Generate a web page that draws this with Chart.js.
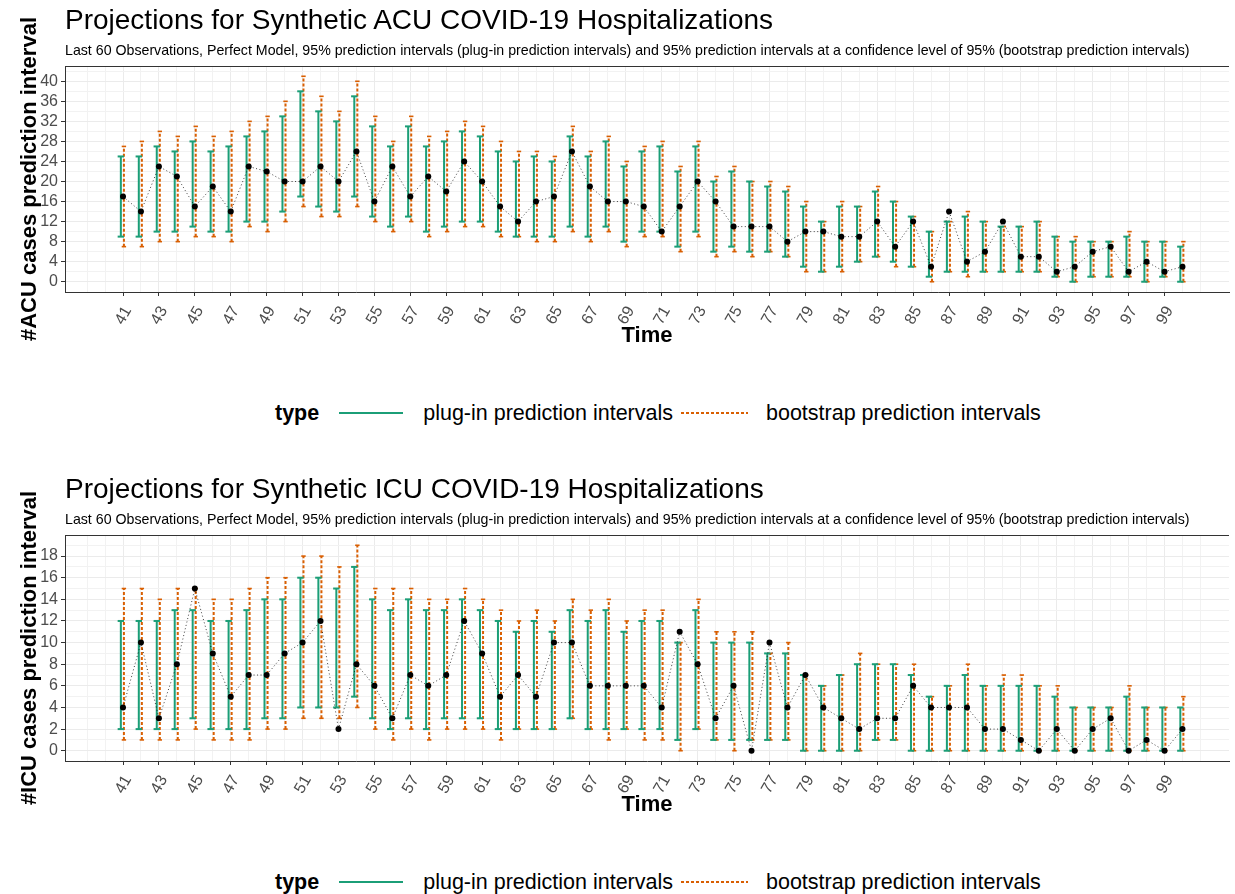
<!DOCTYPE html>
<html>
<head>
<meta charset="utf-8">
<script src="https://cdn.jsdelivr.net/npm/chart.js@4.4.0/dist/chart.umd.min.js"></script>
<style>
  body { margin: 0; background: #fff; font-family: "Liberation Sans", Arial, sans-serif; }
  .panel { position: absolute; left: 0; width: 1235px; height: 470px; }
  .title { position: absolute; z-index: 2; left: 65px; top: 4px; font-size: 28px; line-height: 32px; color: #000; white-space: nowrap; }
  .subtitle { position: absolute; z-index: 2; left: 65px; top: 42px; font-size: 14.2px; line-height: 16px; color: #000; white-space: nowrap; }
  .plot { position: absolute; left: 0; top: 0; z-index: 1; }
  .legend { position: absolute; left: 275px; top: 399px; height: 28px; line-height: 28px; font-size: 21.5px; display: flex; align-items: center; white-space: nowrap; }
  .legend b { font-weight: bold; }
  .legend svg { display: block; }
</style>
</head>
<body>

<div class="panel" style="top:0">
  <canvas class="plot" id="acu-chart" width="1235" height="352"></canvas>
  <div class="title">Projections for Synthetic ACU COVID-19 Hospitalizations</div>
  <div class="subtitle">Last 60 Observations, Perfect Model, 95% prediction intervals (plug-in prediction intervals) and 95% prediction intervals at a confidence level of 95% (bootstrap prediction intervals)</div>
  <div class="legend">
    <b>type</b>
    <svg width="64" height="4" style="margin-left:20px"><line x1="0" y1="2" x2="64" y2="2" stroke="#1b9e77" stroke-width="2"/></svg>
    <span style="margin-left:20px">plug-in prediction intervals</span>
    <svg width="67" height="4" style="margin-left:8px"><line x1="0" y1="2" x2="67" y2="2" stroke="#d95f02" stroke-width="2" stroke-dasharray="3,2"/></svg>
    <span style="margin-left:18px">bootstrap prediction intervals</span>
  </div>
</div>

<div class="panel" style="top:469px">
  <canvas class="plot" id="icu-chart" width="1235" height="352"></canvas>
  <div class="title">Projections for Synthetic ICU COVID-19 Hospitalizations</div>
  <div class="subtitle">Last 60 Observations, Perfect Model, 95% prediction intervals (plug-in prediction intervals) and 95% prediction intervals at a confidence level of 95% (bootstrap prediction intervals)</div>
  <div class="legend">
    <b>type</b>
    <svg width="64" height="4" style="margin-left:20px"><line x1="0" y1="2" x2="64" y2="2" stroke="#1b9e77" stroke-width="2"/></svg>
    <span style="margin-left:20px">plug-in prediction intervals</span>
    <svg width="67" height="4" style="margin-left:8px"><line x1="0" y1="2" x2="67" y2="2" stroke="#d95f02" stroke-width="2" stroke-dasharray="3,2"/></svg>
    <span style="margin-left:18px">bootstrap prediction intervals</span>
  </div>
</div>

<script>
// waktu (time index)
const timeValues = [41, 42, 43, 44, 45, 46, 47, 48, 49, 50, 51, 52, 53, 54, 55, 56, 57, 58, 59, 60,
  61, 62, 63, 64, 65, 66, 67, 68, 69, 70, 71, 72, 73, 74, 75, 76, 77, 78, 79, 80,
  81, 82, 83, 84, 85, 86, 87, 88, 89, 90, 91, 92, 93, 94, 95, 96, 97, 98, 99, 100];
const xTickLabels = [41, 43, 45, 47, 49, 51, 53, 55, 57, 59, 61, 63, 65, 67, 69, 71, 73, 75, 77, 79,
  81, 83, 85, 87, 89, 91, 93, 95, 97, 99];

// ACU
const acuObserved = [17, 14, 23, 21, 15, 19, 14, 23, 22, 20, 20, 23, 20, 26, 16, 23, 17, 21, 18, 24,
  20, 15, 12, 16, 17, 26, 19, 16, 16, 15, 10, 15, 20, 16, 11, 11, 11, 8, 10, 10,
  9, 9, 12, 7, 12, 3, 14, 4, 6, 12, 5, 5, 2, 3, 6, 7, 2, 4, 2, 3];
const acuPlugLow = [9, 9, 10, 10, 11, 10, 10, 12, 12, 14, 17, 15, 14, 17, 13, 11, 13, 10, 11, 12,
  12, 10, 9, 9, 9, 11, 9, 11, 8, 10, 10, 7, 10, 6, 7, 6, 6, 5, 3, 2,
  3, 4, 5, 4, 3, 1, 2, 2, 2, 2, 2, 2, 1, 0, 1, 1, 1, 0, 1, 0];
const acuPlugHigh = [25, 25, 27, 26, 28, 26, 27, 29, 30, 33, 38, 34, 32, 37, 31, 27, 31, 27, 28, 30,
  29, 26, 24, 25, 24, 29, 25, 28, 23, 26, 27, 22, 27, 20, 22, 20, 19, 18, 15, 12,
  15, 15, 18, 16, 13, 10, 12, 13, 12, 11, 11, 12, 9, 8, 8, 8, 9, 8, 8, 7];
const acuBootLow = [7, 7, 8, 8, 9, 9, 8, 11, 10, 12, 15, 13, 13, 15, 12, 10, 12, 9, 10, 11,
  11, 9, 9, 8, 8, 10, 8, 10, 7, 9, 9, 6, 9, 5, 6, 5, 6, 5, 2, 2,
  2, 4, 5, 3, 3, 0, 2, 1, 2, 2, 2, 2, 1, 0, 1, 1, 1, 0, 1, 0];
const acuBootHigh = [27, 28, 30, 29, 31, 29, 30, 32, 33, 36, 41, 37, 34, 40, 33, 28, 33, 29, 30, 32,
  31, 28, 26, 26, 25, 31, 26, 29, 24, 27, 28, 23, 28, 21, 23, 20, 20, 19, 16, 12,
  16, 15, 19, 16, 13, 10, 12, 14, 12, 11, 11, 12, 9, 9, 8, 8, 10, 8, 8, 8];
const acuYLabels = [0, 4, 8, 12, 16, 20, 24, 28, 32, 36, 40];

// ICU
const icuObserved = [4, 10, 3, 8, 15, 9, 5, 7, 7, 9, 10, 12, 2, 8, 6, 3, 7, 6, 7, 12,
  9, 5, 7, 5, 10, 10, 6, 6, 6, 6, 4, 11, 8, 3, 6, 0, 10, 4, 7, 4,
  3, 2, 3, 3, 6, 4, 4, 4, 2, 2, 1, 0, 2, 0, 2, 3, 0, 1, 0, 2];
const icuPlugLow = [2, 2, 2, 2, 3, 2, 2, 2, 3, 3, 4, 4, 4, 5, 3, 2, 3, 2, 3, 3,
  3, 2, 2, 2, 2, 3, 2, 2, 2, 2, 2, 1, 2, 1, 1, 1, 1, 1, 0, 0,
  0, 0, 1, 1, 0, 0, 0, 0, 0, 0, 0, 0, 0, 0, 0, 0, 0, 0, 0, 0];
const icuPlugHigh = [12, 12, 12, 13, 13, 12, 12, 13, 14, 14, 16, 16, 15, 17, 14, 13, 14, 13, 13, 14,
  13, 12, 11, 12, 11, 13, 12, 13, 11, 12, 12, 10, 13, 10, 10, 10, 9, 9, 7, 6,
  7, 8, 8, 8, 7, 5, 6, 7, 6, 6, 6, 6, 5, 4, 4, 4, 5, 4, 4, 4];
const icuBootLow = [1, 1, 1, 1, 2, 1, 1, 1, 2, 2, 3, 3, 3, 4, 2, 1, 2, 1, 2, 2,
  2, 1, 2, 2, 2, 3, 2, 1, 2, 1, 1, 0, 2, 1, 0, 1, 1, 1, 0, 0,
  0, 0, 1, 1, 0, 0, 0, 0, 0, 0, 0, 0, 0, 0, 0, 0, 0, 0, 0, 0];
const icuBootHigh = [15, 15, 14, 15, 15, 14, 14, 15, 16, 16, 18, 18, 17, 19, 15, 15, 15, 14, 14, 15,
  14, 13, 12, 13, 12, 14, 13, 14, 12, 13, 13, 10, 14, 11, 11, 11, 9, 10, 7, 6,
  7, 9, 8, 8, 8, 5, 6, 8, 6, 7, 7, 6, 6, 4, 4, 4, 6, 4, 4, 5];
const icuYLabels = [0, 2, 4, 6, 8, 10, 12, 14, 16, 18];

const green = "#1b9e77";
const orange = "#d95f02";
const tickFont = { family: "'Liberation Sans', Arial, sans-serif", size: 16 };
const titleFont = { family: "'Liberation Sans', Arial, sans-serif", size: 22, weight: "bold" };

// each interval: low point, high point, then a gap
function intervalData(low, high, dx) {
  const pts = [];
  timeValues.forEach(function (t, i) {
    pts.push({ x: t + dx, y: low[i] }, { x: t + dx, y: high[i] }, { x: t + dx, y: null });
  });
  return pts;
}

// top edge of the panel frame
const panelTop = {
  id: "panelTop",
  afterDraw(chart) {
    const a = chart.chartArea, ctx = chart.ctx;
    ctx.save();
    ctx.strokeStyle = "#333333";
    ctx.lineWidth = 1;
    ctx.beginPath();
    ctx.moveTo(a.left, a.top + 0.5);
    ctx.lineTo(a.right, a.top + 0.5);
    ctx.stroke();
    ctx.restore();
  }
};

function makeChart(id, observed, plugLow, plugHigh, bootLow, bootHigh, yLabels, yMin, yMax, yStep, yTitle) {
  return new Chart(document.getElementById(id), {
    type: "scatter",
    data: {
      datasets: [
        {
          label: "observed",
          data: timeValues.map(function (t, i) { return { x: t, y: observed[i] }; }),
          showLine: true,
          borderColor: "rgba(0,0,0,0.75)",
          borderWidth: 1,
          borderDash: [1, 2.5],
          pointRadius: 3,
          pointBackgroundColor: "#000",
          pointBorderWidth: 0,
          order: 0
        },
        {
          label: "plug-in prediction intervals",
          data: intervalData(plugLow, plugHigh, -0.12),
          showLine: true,
          spanGaps: false,
          borderColor: green,
          borderWidth: 2,
          pointStyle: "line",
          pointRadius: 3.2,
          pointBorderColor: green,
          pointBorderWidth: 2,
          order: 1
        },
        {
          label: "bootstrap prediction intervals",
          data: intervalData(bootLow, bootHigh, 0.05),
          showLine: true,
          spanGaps: false,
          borderColor: orange,
          borderWidth: 2,
          borderDash: [3, 2],
          pointStyle: "line",
          pointRadius: 2.2,
          pointBorderColor: orange,
          pointBorderWidth: 1.6,
          order: 2
        }
      ]
    },
    options: {
      responsive: false,
      animation: false,
      events: [],
      layout: { padding: { top: 66, left: 0, right: 0, bottom: 0 } },
      plugins: { legend: { display: false }, tooltip: { enabled: false } },
      scales: {
        x: {
          type: "linear",
          min: 37.77,
          max: 102.59,
          afterBuildTicks: function (scale) {
            const ticks = [];
            for (let v = 39; v <= 101; v++) ticks.push({ value: v });
            scale.ticks = ticks;
          },
          afterFit: function (scale) { scale.height = 60; },
          grid: {
            color: function (c) { return xTickLabels.includes(c.tick.value) ? "#ebebeb" : "#f2f2f2"; },
            tickColor: function (c) { return xTickLabels.includes(c.tick.value) ? "#333333" : "rgba(0,0,0,0)"; },
            tickLength: 4
          },
          border: { display: true, color: "#333333", width: 1 },
          ticks: {
            autoSkip: false,
            minRotation: 60,
            maxRotation: 60,
            padding: 7,
            labelOffset: 5,
            color: "#4d4d4d",
            font: tickFont,
            callback: function (v) { return xTickLabels.includes(v) ? String(v) : ""; }
          },
          title: { display: true, text: "Time", color: "#000", font: titleFont, padding: { top: 0, bottom: 3 } }
        },
        y: {
          min: yMin,
          max: yMax,
          afterBuildTicks: function (scale) {
            const ticks = [];
            for (let v = 0; v <= yMax; v += yStep) ticks.push({ value: v });
            scale.ticks = ticks;
          },
          afterFit: function (scale) { scale.width = 65; },
          grid: {
            color: function (c) { return yLabels.includes(c.tick.value) ? "#ebebeb" : "#f2f2f2"; },
            tickColor: function (c) { return yLabels.includes(c.tick.value) ? "#333333" : "rgba(0,0,0,0)"; },
            tickLength: 4
          },
          border: { display: true, color: "#333333", width: 1 },
          ticks: {
            autoSkip: false,
            padding: 3,
            color: "#4d4d4d",
            font: tickFont,
            callback: function (v) { return yLabels.includes(v) ? String(v) : ""; }
          },
          title: { display: true, text: yTitle, color: "#000", font: titleFont, padding: { top: 17, bottom: 0 } }
        }
      }
    },
    plugins: [panelTop]
  });
}

makeChart("acu-chart", acuObserved, acuPlugLow, acuPlugHigh, acuBootLow, acuBootHigh,
  acuYLabels, -2.05, 43.05, 2, "#ACU cases prediction interval");
makeChart("icu-chart", icuObserved, icuPlugLow, icuPlugHigh, icuBootLow, icuBootHigh,
  icuYLabels, -0.95, 19.95, 1, "#ICU cases prediction interval");
</script>
</body>
</html>
